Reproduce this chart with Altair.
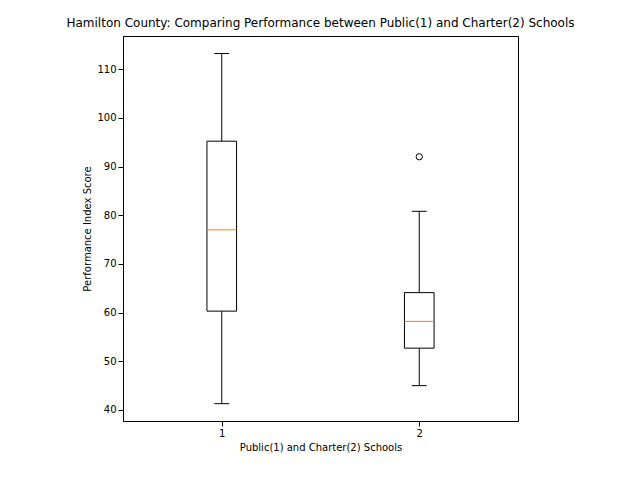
import altair as alt
import pandas as pd

groups = [1, 2]
whisker_low = [41.3, 45.0]
q1 = [60.3, 52.7]
median = [77.0, 58.2]
q3 = [95.2, 64.1]
whisker_high = [113.2, 80.8]
outlier_group = [2]
outlier_value = [92.0]

df = pd.DataFrame({
    "g": groups, "lo": whisker_low, "q1": q1, "med": median,
    "q3": q3, "hi": whisker_high,
})
df["bl"] = df["g"] - 0.075
df["br"] = df["g"] + 0.075
df["cl"] = df["g"] - 0.0375
df["cr"] = df["g"] + 0.0375
out = pd.DataFrame({"g": outlier_group, "v": outlier_value})

xs = alt.Scale(domain=[0.5, 2.5], nice=False, zero=False)
ys = alt.Scale(domain=[37.74, 116.8], nice=False, zero=False)
X = alt.X("g:Q", scale=xs, title="Public(1) and Charter(2) Schools",
          axis=alt.Axis(values=[1, 2], format="d", grid=False, tickColor="black",
                        domainColor="black", labelColor="black", titleColor="black",
                        titleFontWeight="normal", labelFontSize=10, titleFontSize=10,
                        labelFont="DejaVu Sans", titleFont="DejaVu Sans"))
Yax = alt.Axis(values=list(range(40, 120, 10)), grid=False, tickColor="black",
               domainColor="black", labelColor="black", titleColor="black",
               titleFontWeight="normal", labelFontSize=10, titleFontSize=10,
               labelFont="DejaVu Sans", titleFont="DejaVu Sans")

base = alt.Chart(df)
lower = base.mark_rule(color="black").encode(
    x=X, y=alt.Y("lo:Q", scale=ys, axis=Yax, title="Performance Index Score"), y2="q1:Q")
upper = base.mark_rule(color="black").encode(x="g:Q", y="q3:Q", y2="hi:Q")
box = base.mark_rect(fill="white", stroke="black", strokeWidth=1).encode(
    x="bl:Q", x2="br:Q", y="q1:Q", y2="q3:Q")
med = base.mark_rule(color="#ff7f0e").encode(x="bl:Q", x2="br:Q", y="med:Q")
cap_lo = base.mark_rule(color="black").encode(x="cl:Q", x2="cr:Q", y="lo:Q")
cap_hi = base.mark_rule(color="black").encode(x="cl:Q", x2="cr:Q", y="hi:Q")
pts = alt.Chart(out).mark_point(color="black", size=40, filled=False, opacity=1,
                                strokeWidth=1).encode(x="g:Q", y="v:Q")

chart = alt.layer(lower, upper, box, med, cap_lo, cap_hi, pts).properties(
    width=395, height=385,
    autosize=alt.AutoSizeParams(type="none"),
    padding={"left": 115, "top": 28, "right": 114, "bottom": 51},
    title=alt.Title("Hamilton County: Comparing Performance between Public(1) and Charter(2) Schools",
                    font="DejaVu Sans", fontSize=12, fontWeight="normal", color="black",
                    anchor="middle", offset=6),
).configure_view(stroke="black", strokeWidth=1)

chart.save("out.html", embed_options={"renderer": "svg", "actions": False})
